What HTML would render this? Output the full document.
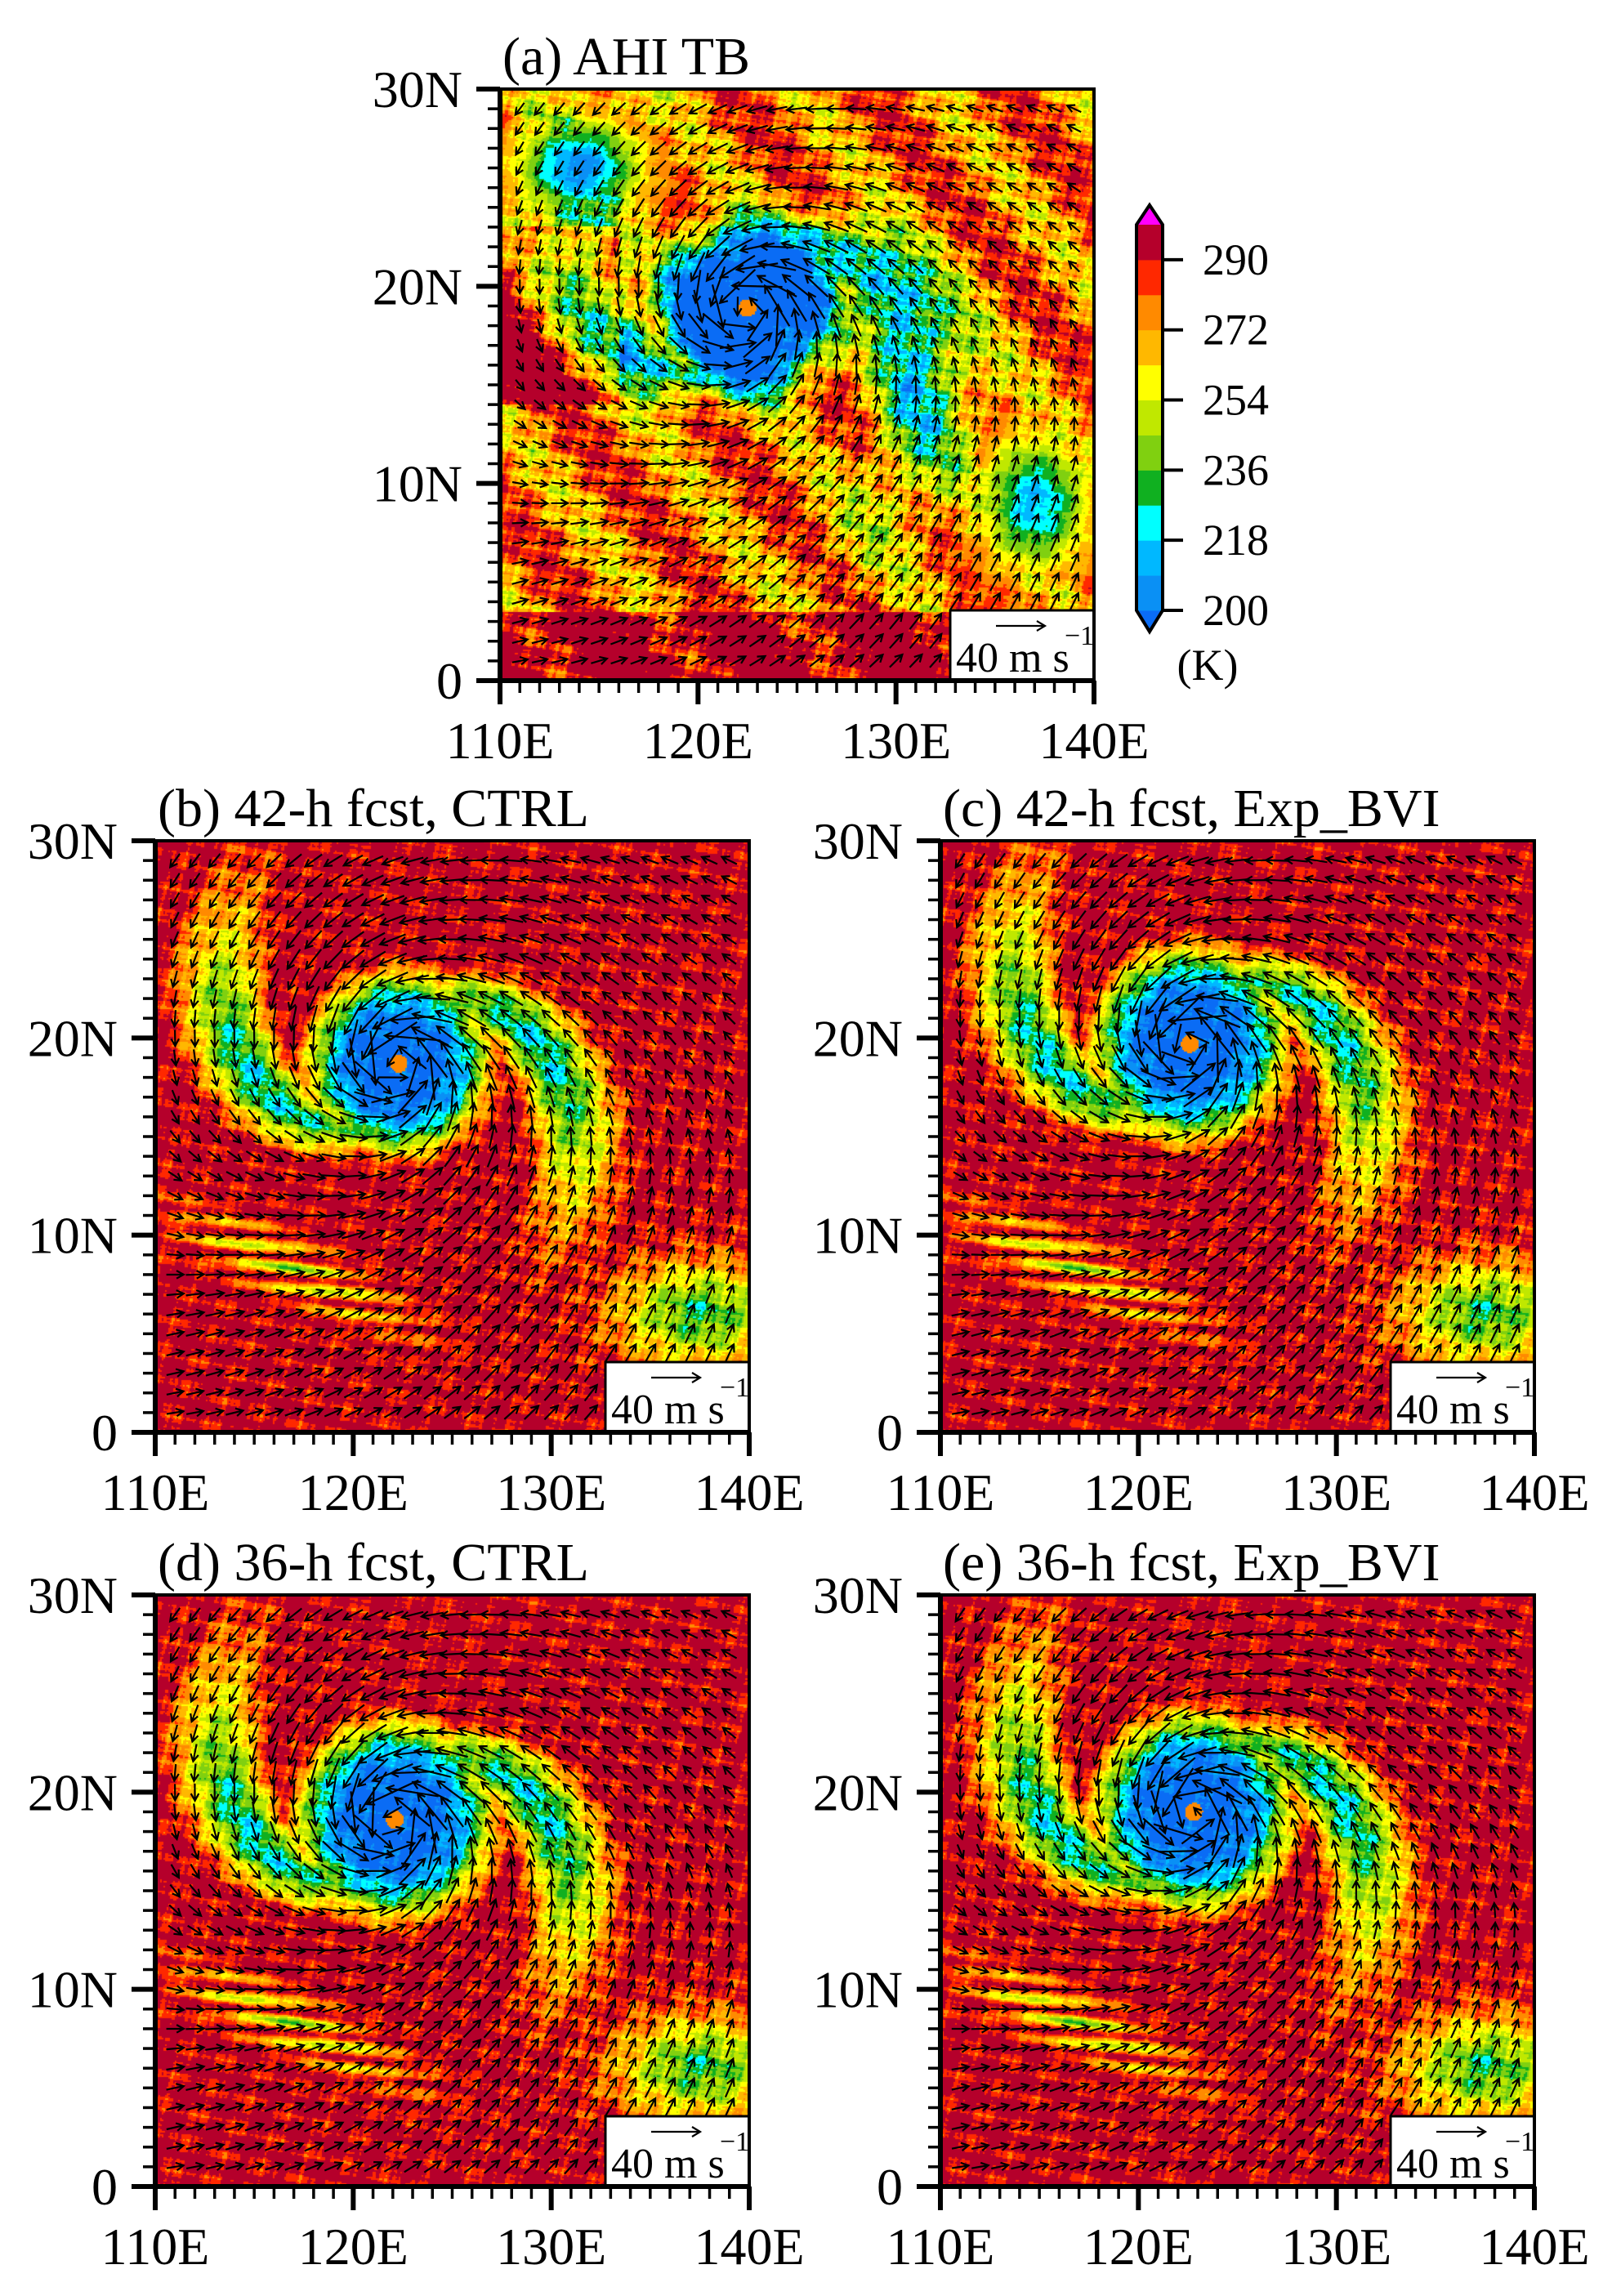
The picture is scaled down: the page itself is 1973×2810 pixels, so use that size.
<!DOCTYPE html>
<html><head><meta charset="utf-8">
<style>
html,body{margin:0;padding:0;background:#fff;}
#root{position:relative;width:1973px;height:2810px;overflow:hidden;background:#fff;}
canvas{position:absolute;}
#ov{position:absolute;left:0;top:0;}
text{font-family:"Liberation Serif",serif;fill:#000;}
</style></head>
<body>
<div id="root">
<canvas id="cv-a" width="727" height="724" style="left:612px;top:109px"></canvas>
<canvas id="cv-b" width="727" height="724" style="left:190px;top:1029px"></canvas>
<canvas id="cv-c" width="727" height="724" style="left:1151px;top:1029px"></canvas>
<canvas id="cv-d" width="727" height="724" style="left:190px;top:1952px"></canvas>
<canvas id="cv-e" width="727" height="724" style="left:1151px;top:1952px"></canvas>
<svg id="ov" width="1973" height="2810" xmlns="http://www.w3.org/2000/svg"></svg>
</div>
<script>
// ---- data ----
const panelIds = ['a','b','c','d','e'];
const panelTitles = ['(a) AHI TB','(b) 42-h fcst, CTRL','(c) 42-h fcst, Exp_BVI','(d) 36-h fcst, CTRL','(e) 36-h fcst, Exp_BVI'];
const panelType = ['obs','fcst','fcst','fcst','fcst'];
const stormLon = [122.5, 122.3, 122.6, 122.1, 122.8];
const stormLat = [18.9, 18.7, 19.7, 18.6, 19.0];
const stormVmax = [40, 45, 45, 45, 45];
const coreRadius = [4.4, 4.6, 4.9, 5.0, 5.0];
const xTickLabels = ['110E','120E','130E','140E'];
const xTickValues = [110,120,130,140];
const yTickLabels = ['0','10N','20N','30N'];
const yTickValues = [0,10,20,30];
const cbarLabels = ['290','272','254','236','218','200'];
const cbarLevels = [200,209,218,227,236,245,254,263,272,281,290,299];
const cbarColors = ['#0a6cf5','#0a90f5','#00b8ff','#00ffff','#10b020','#80d010','#c0e800','#ffff00','#ffb800','#ff8a00','#ff2800','#b5002b'];
const refSpeed = 40;
// ---- layout ----
const panelX = [612,190,1151,190,1151];
const panelY = [109,1029,1029,1952,1952];
const PW = 727, PH = 724;
const NS='http://www.w3.org/2000/svg';
const ov=document.getElementById('ov');
function el(tag,attrs,parent){const e=document.createElementNS(NS,tag);for(const k in attrs)e.setAttribute(k,attrs[k]);(parent||ov).appendChild(e);return e;}

function hex(c){return [parseInt(c.substr(1,2),16),parseInt(c.substr(3,2),16),parseInt(c.substr(5,2),16)];}
const rgbCols=cbarColors.map(hex);
function rgbFor(T){
  if(T<cbarLevels[0]) return rgbCols[0];
  for(let i=1;i<cbarLevels.length;i++){ if(T<cbarLevels[i]) return rgbCols[i-1]; }
  return rgbCols[rgbCols.length-1];
}
function tex(lon,lat){
  return 0.45*Math.sin(lon*2.1+lat*1.3)*Math.sin(lat*2.7-lon*0.8)
   +0.3*Math.sin(lon*5.3+lat*4.1)*Math.sin(lat*6.2-lon*3.7)
   +0.25*Math.sin(lon*11.3+lat*9.1)*Math.sin(lat*13.7-lon*7.3);
}
function field(p,lon,lat){
  const dx=lon-stormLon[p], dy=lat-stormLat[p];
  const r=Math.hypot(dx,dy)+1e-6, th=Math.atan2(dy,dx);
  const t=tex(lon,lat);
  const core=Math.exp(-Math.pow(r/coreRadius[p],4));
  const armS=Math.pow(0.5+0.5*Math.cos(2*(th+1.5*Math.log(r+0.3))),4);
  const arm=armS*Math.exp(-Math.pow((r-7)/5.5,2));
  let v;
  if(panelType[p]==='fcst'){
    v=Math.max(core*1.15, arm*0.85)+0.22*t-0.18;
    v=Math.max(v, 0.62*Math.exp(-(Math.pow((lon-137.5)/4.2,2)+Math.pow((lat-6)/2.6,2)))+0.22*t-0.05);
    v=Math.max(v, 0.55*Math.exp(-Math.pow((lat-10+0.45*(lon-113))/1.6,2))*Math.exp(-Math.pow((lon-117)/6,2))*(0.5+0.5*Math.sin(lat*6+lon*0.5))+0.15*t-0.05);
  } else {
    v=Math.max(core*1.1, arm*0.75)+0.2*t;
    v+=0.12+0.16*Math.sin(lon*0.9+lat*0.7)+0.1*t;
    v=Math.max(v,0.85*Math.exp(-(Math.pow((lon-114)/3.2,2)+Math.pow((lat-26)/2.6,2)))+0.1*t);
    v=Math.max(v,0.75*Math.exp(-(Math.pow((lon-137)/2.8,2)+Math.pow((lat-9)/3.5,2)))+0.12*t);
    if(lat<3.5||(lon<116&&lat>14&&lat<23)) v-=0.25;
  }
  if(r<0.45) v=0.12;
  return 298-100*v;
}
function drawField(p){
  const cv=document.getElementById('cv-'+panelIds[p]);
  const ctx=cv.getContext('2d');
  const img=ctx.createImageData(PW,PH);
  const B=2;
  for(let y=0;y<PH;y+=B){
    const lat=30-(y+1)/PH*30;
    for(let x=0;x<PW;x+=B){
      const lon=110+(x+1)/PW*30;
      const c=rgbFor(field(p,lon,lat));
      for(let yy=y;yy<Math.min(y+B,PH);yy++)for(let xx=x;xx<Math.min(x+B,PW);xx++){
        const i=(yy*PW+xx)*4;img.data[i]=c[0];img.data[i+1]=c[1];img.data[i+2]=c[2];img.data[i+3]=255;}
    }
  }
  ctx.putImageData(img,0,0);
}
function wind(p,lon,lat){
  const dx=lon-stormLon[p], dy=lat-stormLat[p];
  const r=Math.hypot(dx,dy)+1e-6, rm=1.3;
  const V=r<rm?stormVmax[p]*r/rm:stormVmax[p]*Math.pow(rm/r,0.55);
  const a=0.4;
  const ux=-dy/r, uy=dx/r, ix=-dx/r, iy=-dy/r;
  let u=V*(Math.cos(a)*ux+Math.sin(a)*ix), v=V*(Math.cos(a)*uy+Math.sin(a)*iy);
  u+=-4*Math.tanh((lat-14)/4); v+=6*Math.exp(-Math.pow((lat-5)/6,2));
  return [u,v];
}
function arrow(g,x,y,u,v){
  const s=Math.hypot(u,v)+1e-6;
  const L=s*60/refSpeed;
  const ex=u/s, ey=-v/s;
  const x0=x-ex*L/2, y0=y-ey*L/2, x1=x+ex*L/2, y1=y+ey*L/2;
  const h=10, ca=Math.cos(0.5), sa=Math.sin(0.5);
  const hx1=x1-h*(ex*ca-ey*sa), hy1=y1-h*(ey*ca+ex*sa);
  const hx2=x1-h*(ex*ca+ey*sa), hy2=y1-h*(ey*ca-ex*sa);
  const pth=el('path',{d:`M${x0.toFixed(1)},${y0.toFixed(1)}L${x1.toFixed(1)},${y1.toFixed(1)}M${hx1.toFixed(1)},${hy1.toFixed(1)}L${x1.toFixed(1)},${y1.toFixed(1)}L${hx2.toFixed(1)},${hy2.toFixed(1)}`,stroke:'#000','stroke-width':2.2,fill:'none'},g);
  
  
}
for(let p=0;p<5;p++){
  drawField(p);
  const X=panelX[p], Y=panelY[p];
  const sx=lon=>X+(lon-110)/30*PW, sy=lat=>Y+PH-lat/30*PH;
  const g=el('g',{});
  
  
  const cp=el('clipPath',{id:'clip'+p},g); el('rect',{x:X,y:Y,width:PW,height:PH},cp);
  const vg=el('g',{'clip-path':'url(#clip'+p+')'},g);
  
  
  for(let lon=111;lon<=139;lon++)for(let lat=1;lat<=29;lat++){const w=wind(p,lon,lat);arrow(vg,sx(lon),sy(lat),w[0],w[1]);}
  // legend box
  const lb=el('g',{},g);
  
  
  const bx=X+PW-176, by=Y+PH-86;
  el('rect',{x:bx,y:by,width:176,height:86,fill:'#fff',stroke:'#000','stroke-width':3},lb);
  el('path',{d:`M${bx+56},${by+19}L${bx+116},${by+19}M${bx+106},${by+13}L${bx+116},${by+19}L${bx+106},${by+25}`,stroke:'#000','stroke-width':2.2,fill:'none'},lb);
  const lt=el('text',{x:bx+7,y:by+75,'font-size':52},lb); lt.textContent='40 m s';
  const ls=el('text',{x:bx+140,y:by+42,'font-size':34},lb); ls.textContent='\u22121';
  // frame
  el('rect',{x:X,y:Y,width:PW,height:PH,fill:'none',stroke:'#000','stroke-width':4},g);
  el('line',{x1:X,y1:Y-2,x2:X,y2:Y+PH+3,stroke:'#000','stroke-width':6},g);
  el('line',{x1:X-3,y1:Y+PH,x2:X+PW+2,y2:Y+PH,stroke:'#000','stroke-width':6},g);
  // ticks
  for(let d=0;d<=30;d++){
    const maj=d%10===0, L=maj?29:15, w=maj?6:3.5;
    el('line',{x1:X,y1:sy(d),x2:X-L,y2:sy(d),stroke:'#000','stroke-width':w},g);
    el('line',{x1:sx(110+d),y1:Y+PH,x2:sx(110+d),y2:Y+PH+L,stroke:'#000','stroke-width':w},g);
  }
  xTickLabels.forEach((s,i)=>{const t=el('text',{x:sx(xTickValues[i]),y:Y+PH+95,'font-size':64,'text-anchor':'middle'},g);t.textContent=s;
    });
  yTickLabels.forEach((s,i)=>{const t=el('text',{x:X-46,y:sy(yTickValues[i])+22,'font-size':64,'text-anchor':'end'},g);t.textContent=s;
    });
  const tt=el('text',{x:X+3,y:Y-18,'font-size':66},g); tt.textContent=panelTitles[p];
  
  
}
// colorbar
const cb=el('g',{});


const cbX=1391, cbW=32, cbTop=275, cbBot=747, nb=11, bh=(cbBot-cbTop)/nb;
el('path',{d:`M${cbX},${cbTop}L${cbX+cbW/2},${cbTop-24}L${cbX+cbW},${cbTop}Z`,fill:'#ff00ff',stroke:'none'},cb);
el('path',{d:`M${cbX},${cbBot}L${cbX+cbW/2},${cbBot+26}L${cbX+cbW},${cbBot}Z`,fill:cbarColors[0],stroke:'none'},cb);
for(let i=0;i<nb;i++){
  el('rect',{x:cbX,y:cbBot-(i+1)*bh,width:cbW,height:bh+0.5,fill:cbarColors[i+1]},cb);
}
el('path',{d:`M${cbX},${cbTop}L${cbX+cbW/2},${cbTop-24}L${cbX+cbW},${cbTop}L${cbX+cbW},${cbBot}L${cbX+cbW/2},${cbBot+26}L${cbX},${cbBot}Z`,fill:'none',stroke:'#000','stroke-width':4},cb);
cbarLabels.forEach((s,i)=>{
  const y=cbTop+bh+i*2*bh;
  el('line',{x1:cbX+cbW,y1:y,x2:cbX+cbW+25,y2:y,stroke:'#000','stroke-width':4},cb);
  const t=el('text',{x:1472,y:y+18,'font-size':54},cb);t.textContent=s;
  
  
});
const ku=el('text',{x:1478,y:832,'font-size':54,'text-anchor':'middle'},cb);ku.textContent='(K)';


</script>
</body></html>
